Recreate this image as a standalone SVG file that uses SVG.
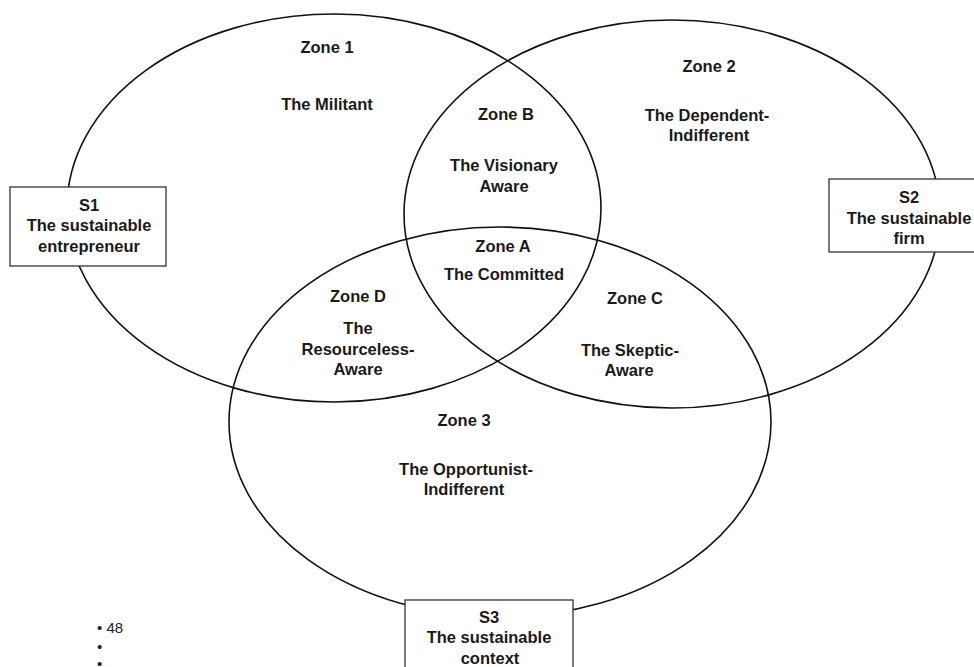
<svg xmlns="http://www.w3.org/2000/svg" width="974" height="667" viewBox="0 0 974 667">
  <style>
    .ring { fill: none; stroke: #111; stroke-width: 1.6; }
    .box { fill: #fff; stroke: #333; stroke-width: 1.3; }
    .lbl { font-family: "Liberation Sans", Arial, sans-serif; font-weight: bold; font-size: 16.5px; fill: #1a1a1a; text-anchor: middle; }
    .note { font-family: "Liberation Sans", Arial, sans-serif; font-size: 15px; fill: #222; }
  </style>
  <rect width="974" height="667" fill="#fff"/>

  <g id="circle-1"><ellipse class="ring" cx="334" cy="208" rx="267" ry="194"/></g>
  <g id="circle-2"><ellipse class="ring" cx="672" cy="214" rx="268" ry="194"/></g>
  <g id="circle-3"><ellipse class="ring" cx="500" cy="422" rx="271" ry="195"/></g>

  <g id="s1">
    <rect class="box" x="10" y="187" width="156" height="79"/>
    <text class="lbl" x="89" y="211">S1</text>
    <text class="lbl" x="89" y="231">The sustainable</text>
    <text class="lbl" x="89" y="252">entrepreneur</text>
  </g>
  <g id="s2">
    <rect class="box" x="829" y="179" width="170" height="73"/>
    <text class="lbl" x="909" y="203">S2</text>
    <text class="lbl" x="909" y="224">The sustainable</text>
    <text class="lbl" x="909" y="244">firm</text>
  </g>
  <g id="s3">
    <rect class="box" x="405" y="600" width="168" height="80"/>
    <text class="lbl" x="489" y="623">S3</text>
    <text class="lbl" x="489" y="643">The sustainable</text>
    <text class="lbl" x="490" y="664">context</text>
  </g>

  <g id="zone-1">
    <text class="lbl" x="327" y="53">Zone 1</text>
    <text class="lbl" x="327" y="110">The Militant</text>
  </g>
  <g id="zone-2">
    <text class="lbl" x="709" y="72">Zone 2</text>
    <text class="lbl" x="707" y="121">The Dependent-</text>
    <text class="lbl" x="709" y="141">Indifferent</text>
  </g>
  <g id="zone-b">
    <text class="lbl" x="506" y="120">Zone B</text>
    <text class="lbl" x="504" y="171">The Visionary</text>
    <text class="lbl" x="504" y="192">Aware</text>
  </g>
  <g id="zone-a">
    <text class="lbl" x="503" y="252">Zone A</text>
    <text class="lbl" x="504" y="280">The Committed</text>
  </g>
  <g id="zone-d">
    <text class="lbl" x="358" y="302">Zone D</text>
    <text class="lbl" x="358" y="334">The</text>
    <text class="lbl" x="358" y="355">Resourceless-</text>
    <text class="lbl" x="358" y="375">Aware</text>
  </g>
  <g id="zone-c">
    <text class="lbl" x="635" y="304">Zone C</text>
    <text class="lbl" x="630" y="356">The Skeptic-</text>
    <text class="lbl" x="629" y="376">Aware</text>
  </g>
  <g id="zone-3">
    <text class="lbl" x="464" y="426">Zone 3</text>
    <text class="lbl" x="466" y="475">The Opportunist-</text>
    <text class="lbl" x="464" y="495">Indifferent</text>
  </g>

  <g id="page-notes">
    <text class="note" x="97" y="633">• 48</text>
    <text class="note" x="97" y="652">•</text>
    <text class="note" x="97" y="669">•</text>
  </g>
</svg>
